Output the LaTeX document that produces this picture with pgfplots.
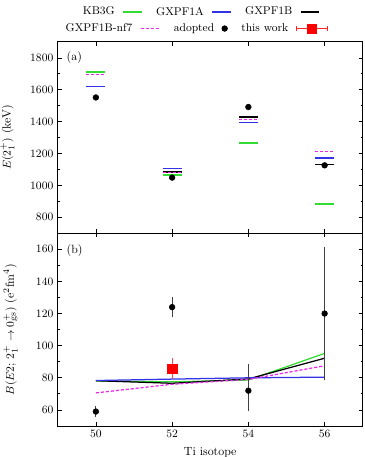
\documentclass[border=0pt]{standalone}
\usepackage{pgfplots}
\pgfplotsset{compat=1.18}
\definecolor{kbg}{RGB}{50,220,50}
\definecolor{gxa}{RGB}{50,50,230}
\definecolor{nfm}{RGB}{235,40,235}
\pgfplotsset{
  shortline/.style={legend image code/.code={\draw[##1, line width=1.1pt] (0pt,0pt) -- (15pt,0pt);}},
  panel/.style={
    scale only axis, width=244pt,
    xmin=49, xmax=57, xtick={50,52,54,56},
    tick align=inside, major tick length=3pt, minor tick length=1.8pt,
    axis line style={line width=0.8pt},
    every tick/.style={black, line width=0.6pt},
    tick label style={font=\fontsize{9.5}{11}\selectfont},
    label style={font=\fontsize{9.5}{11}\selectfont},
    /pgf/number format/1000 sep={},
    legend plot pos=right, legend columns=3,
    legend style={draw=none, fill=none, inner sep=0pt, font=\small, anchor=west,
      /tikz/every odd column/.append style={column sep=4pt},
      /tikz/every even column/.append style={column sep=9pt}},
    unbounded coords=jump,
  },
  model/.style={line width=1pt},
  nfline/.style={nfm, line width=1pt, dash pattern=on 2.5pt off 1.5pt},
}
\begin{document}
\begin{tikzpicture}
% (a) excitation energies of the first 2+ state
\begin{axis}[panel, name=top, height=153pt,
    ymin=700, ymax=1900, ytick={800,1000,...,1800}, minor y tick num=1,
    xticklabels={},
    ylabel={$E(2^+_1)$ (keV)},
    ylabel style={at={(axis description cs:-0.165,0.5)}, anchor=center},
    legend style={at={(axis description cs:0.073,1.157)}},
  ]
  \addplot[kbg, model, shortline] table {
    x y
    49.75 1711
    50.25 1711
    50 nan
    51.75 1066
    52.25 1066
    52 nan
    53.75 1266
    54.25 1266
    54 nan
    55.75 883
    56.25 883
  };
  \addlegendentry{KB3G}
  \addplot[black, model, forget plot] table {
    x y
    49.75 1621
    50.25 1621
    50 nan
    51.75 1085
    52.25 1085
    52 nan
    53.75 1430
    54.25 1430
    54 nan
    55.75 1131
    56.25 1131
  };
  \addplot[gxa, model, shortline] table {
    x y
    49.75 1621
    50.25 1621
    50 nan
    51.75 1106
    52.25 1106
    52 nan
    53.75 1393
    54.25 1393
    54 nan
    55.75 1172
    56.25 1172
  };
  \addlegendentry{GXPF1A}
  \addlegendimage{black, model, shortline}
  \addlegendentry{GXPF1B}
  \addplot[nfline, forget plot] table {
    x y
    49.75 1694
    50.25 1694
    50 nan
    51.75 1082
    52.25 1082
    52 nan
    53.75 1414
    54.25 1414
    54 nan
    55.75 1212
    56.25 1212
  };
  \addplot[only marks, mark=*, mark size=2.3pt, black, forget plot] table {
    x y
    50 1552
    52 1049
    54 1492
    56 1126
  };
  \node[anchor=west, font=\fontsize{9.5}{11}\selectfont] at (axis description cs:0.015,0.92) {(a)};
\end{axis}

% (b) reduced transition probabilities
\begin{axis}[panel, at={(top.south)}, anchor=north, height=154.2pt,
    ymin=50, ymax=170, ytick={60,80,...,160}, minor y tick num=1,
    xlabel={Ti isotope},
    xlabel style={at={(axis description cs:0.5,-0.14)}, anchor=center},
    ylabel={$B(E2;\,2^+_1\rightarrow0^+_{\mathrm{gs}})$ (e$^2$fm$^4$)},
    ylabel style={at={(axis description cs:-0.155,0.5)}, anchor=center},
    legend style={at={(axis description cs:0.017,2.062)}},
  ]
  \addplot[kbg, model, forget plot] table {
    x y
    50 78.0
    52 77.5
    54 78.6
    56 95.2
  };
  \addplot[black, model, forget plot] table {
    x y
    50 78.2
    52 76.6
    54 79.3
    56 92.2
  };
  \addplot[gxa, model, forget plot] table {
    x y
    50 78.3
    52 79.2
    54 80.0
    56 80.4
  };
  \addplot[nfline, shortline] table {
    x y
    50 70.6
    52 76.0
    54 79.0
    56 87.5
  };
  \addlegendentry{GXPF1B-nf7}
  \addplot[only marks, mark=*, mark size=2.3pt, black,
    error bars/.cd, y dir=both, y explicit,
    error bar style={black!75, line width=0.7pt},
    error mark options={black!75, mark size=1.8pt, line width=0.7pt}]
    table[x=x, y=y, y error plus=ep, y error minus=em] {
    x y ep em
    50 59 2 2
    52 124 5 5
    54 72 15 11
    56 120 40 40
  };
  \addlegendentry{adopted}
  \addplot[only marks, mark=square*, mark size=3.8pt, red,
    legend image code/.code={
      \draw[red!85, line width=0.8pt] (0pt,0pt) -- (25pt,0pt)
        (0pt,-1.8pt) -- (0pt,1.8pt) (25pt,-1.8pt) -- (25pt,1.8pt);
      \draw[red] plot[mark=square*, mark size=3.8pt] coordinates {(12.5pt,0pt)};},
    error bars/.cd, y dir=both, y explicit,
    error bar style={red!70, line width=0.7pt},
    error mark options={red!70, mark size=1.8pt, line width=0.7pt}]
    table[x=x, y=y, y error plus=ep, y error minus=em] {
    x y ep em
    52 85.7 5 5
  };
  \addlegendentry{this work}
  \node[anchor=west, font=\fontsize{9.5}{11}\selectfont] at (axis description cs:0.015,0.91) {(b)};
\end{axis}
\pgfresetboundingbox
\path (top.north west) ++(-46.2pt,33.6pt) rectangle ++(291.2pt,-365.6pt);
\end{tikzpicture}
\end{document}
